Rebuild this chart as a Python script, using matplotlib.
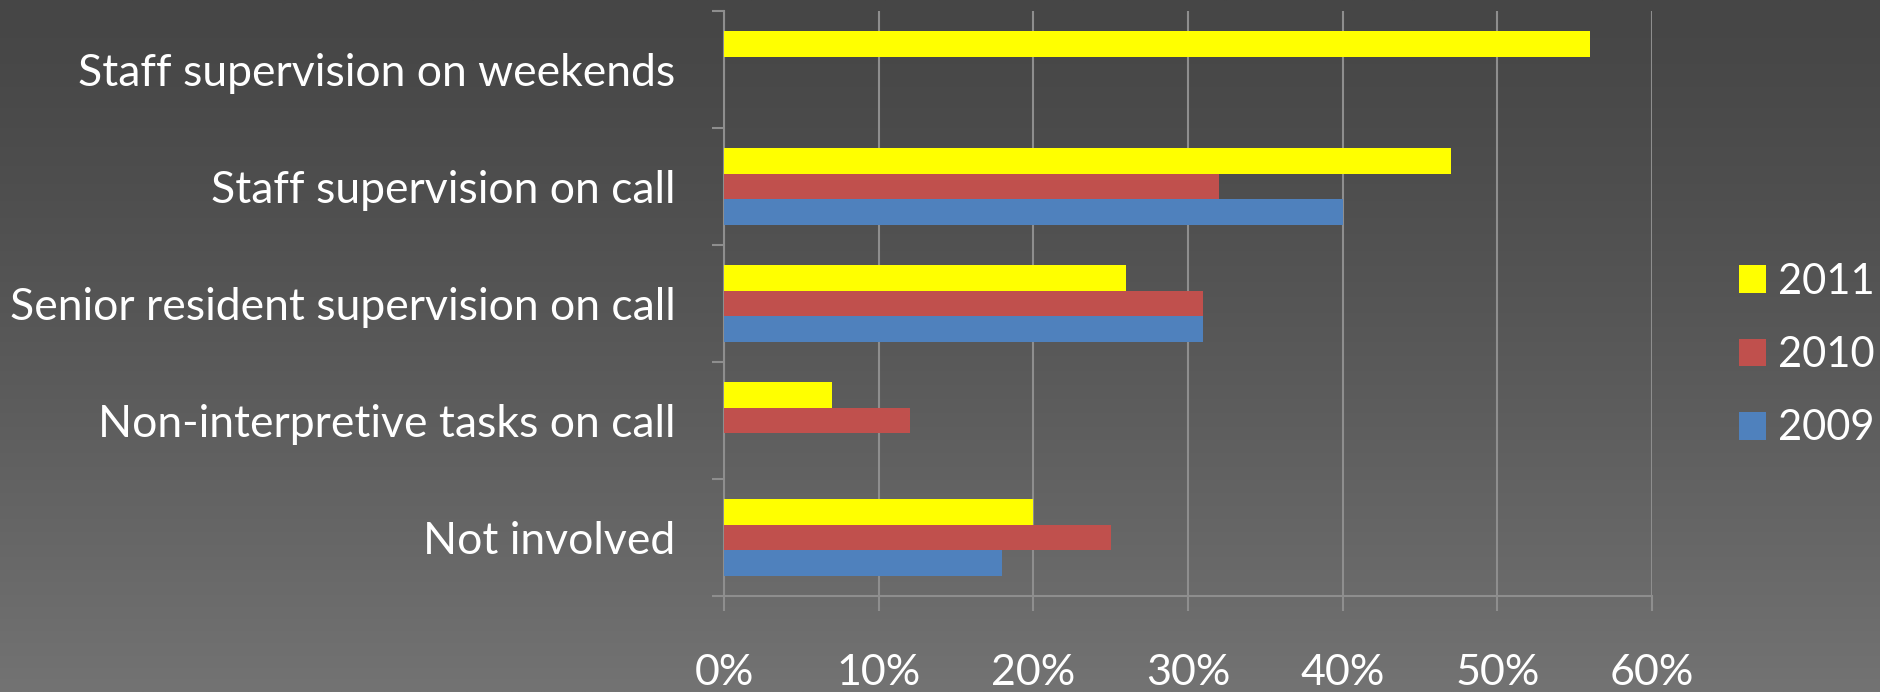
import numpy as np
import matplotlib
matplotlib.use("Agg")
import matplotlib.pyplot as plt
from matplotlib.patches import Patch
from matplotlib.ticker import FixedLocator

categories = ["Not involved", "Non-interpretive tasks on call",
              "Senior resident supervision on call", "Staff supervision on call",
              "Staff supervision on weekends"]
y2011 = [20, 7, 26, 47, 56]
y2010 = [25, 12, 31, 32, 0]
y2009 = [18, 0, 31, 40, 0]
series_names = ["2011", "2010", "2009"]
xticks = [0, 10, 20, 30, 40, 50, 60]
xtick_labels = ["0%", "10%", "20%", "30%", "40%", "50%", "60%"]

colors = {"2011": "#FFFF00", "2010": "#C0504D", "2009": "#4F81BD"}
FONT = "Lato"
W, H, DPI = 1881, 692, 100

fig = plt.figure(figsize=(W / DPI, H / DPI), dpi=DPI)

# background gradient
bg = fig.add_axes([0, 0, 1, 1], zorder=-10)
t = np.linspace(0, 1, 400)
top, bot = 0x46, 0x73
vals = top + (bot - top) * t ** 1.3
img = np.repeat(vals[:, None], 10, axis=1) / 255.0
bg.imshow(np.dstack([img, img, img]), aspect="auto", extent=[0, 1, 0, 1], origin="upper")
bg.axis("off")

ax = fig.add_axes([724 / W, 1 - 596 / H, (1652 - 724) / W, (596 - 11) / H])
ax.patch.set_alpha(0)

bw = 0.222
y = np.arange(len(categories))
ax.barh(y + bw, y2011, height=bw, color=colors["2011"], zorder=3)
ax.barh(y, y2010, height=bw, color=colors["2010"], zorder=3)
ax.barh(y - bw, y2009, height=bw, color=colors["2009"], zorder=3)

ax.set_xlim(0, 60)
ax.set_ylim(-0.5, len(categories) - 0.5)

gc = "#8e8e8e"
ax.set_xticks(xticks)
ax.set_xticklabels(xtick_labels, fontsize=31, color="white", family=FONT)
ax.xaxis.grid(True, color=gc, linewidth=1.5, zorder=0)
ax.tick_params(axis="x", length=11, width=1.5, color=gc, pad=31)

ax.set_yticks(y)
ax.set_yticklabels(categories, fontsize=32, color="white", family=FONT)
ax.yaxis.set_minor_locator(FixedLocator(np.arange(-0.5, len(categories), 1.0)))
ax.tick_params(axis="y", which="major", length=0, pad=35)
ax.tick_params(axis="y", which="minor", length=9, width=1.5, color=gc)

for s in ["top", "right"]:
    ax.spines[s].set_visible(False)
for s in ["left", "bottom"]:
    ax.spines[s].set_color(gc)
    ax.spines[s].set_linewidth(1.5)

handles = [Patch(facecolor=colors[n], edgecolor="none") for n in series_names]
leg = fig.legend(handles, series_names, loc="center left",
                 bbox_to_anchor=(1739 / W, 1 - 355 / H), frameon=False,
                 prop={"family": FONT, "size": 30}, labelcolor="white",
                 handlelength=0.64, handleheight=0.64, handletextpad=0.3,
                 labelspacing=0.85, borderpad=0, borderaxespad=0)

fig.savefig("out.png", dpi=DPI)
